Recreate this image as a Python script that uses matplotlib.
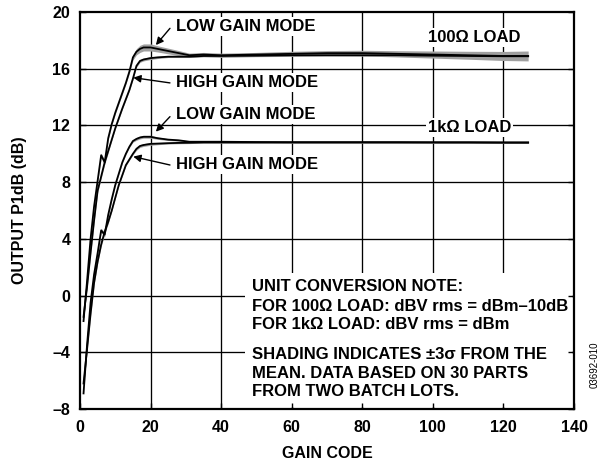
import matplotlib
matplotlib.use("Agg")
import matplotlib.pyplot as plt
from matplotlib.patches import Rectangle

plt.rcParams['font.family'] = ['Liberation Sans', 'DejaVu Sans']
plt.rcParams['font.weight'] = 'bold'

# gain codes where the curves were read
codes = [1, 2, 3, 4, 5, 6, 7, 8, 9, 10, 11, 12, 13, 14, 15, 16, 17, 18, 20, 22,
         25, 28, 31, 35, 40, 50, 60, 70, 80, 90, 100, 110, 120, 127]

# 100 ohm load
lg100 = [-1.8, 1.0, 4.0, 6.3, 8.1, 9.9, 9.4, 11.1, 12.1, 12.9, 13.6, 14.3, 15.0, 15.8,
         16.8, 17.2, 17.4, 17.5, 17.5, 17.4, 17.25, 17.1, 16.95, 17.0, 16.95, 17.0,
         17.05, 17.1, 17.1, 17.05, 17.0, 16.95, 16.9, 16.9]
hg100 = [-1.5, 0.6, 3.0, 5.3, 7.4, 8.4, 9.4, 10.2, 11.0, 11.8, 12.5, 13.2, 13.85, 14.5,
         15.3, 16.2, 16.55, 16.65, 16.75, 16.8, 16.85, 16.85, 16.85, 16.9, 16.9, 16.92,
         16.95, 16.95, 16.95, 16.95, 16.92, 16.9, 16.88, 16.88]
band100 = [0.1, 0.1, 0.1, 0.1, 0.12, 0.15, 0.15, 0.12, 0.1, 0.1, 0.1, 0.1, 0.1, 0.12,
           0.18, 0.22, 0.25, 0.25, 0.25, 0.22, 0.2, 0.18, 0.15, 0.15, 0.15, 0.15,
           0.18, 0.18, 0.2, 0.22, 0.25, 0.28, 0.32, 0.35]

# 1k ohm load
lg1k = [-6.9, -3.5, -0.5, 1.5, 3.0, 4.6, 4.3, 5.7, 6.8, 7.8, 8.6, 9.4, 10.0, 10.5,
        10.9, 11.05, 11.15, 11.2, 11.2, 11.1, 11.0, 10.95, 10.85, 10.85, 10.85, 10.83,
        10.82, 10.82, 10.82, 10.82, 10.81, 10.81, 10.8, 10.8]
hg1k = [-6.2, -3.8, -1.3, 0.9, 2.4, 3.6, 4.5, 5.2, 6.0, 6.9, 7.8, 8.5, 9.2, 9.6,
        10.0, 10.35, 10.55, 10.62, 10.7, 10.72, 10.75, 10.77, 10.78, 10.8, 10.8, 10.8,
        10.8, 10.8, 10.8, 10.8, 10.8, 10.8, 10.79, 10.79]
band1k = [0.1, 0.1, 0.1, 0.1, 0.12, 0.15, 0.15, 0.12, 0.08, 0.06, 0.06, 0.06, 0.06,
          0.06, 0.08, 0.1, 0.1, 0.1, 0.1, 0.08, 0.06, 0.06, 0.06, 0.05, 0.05, 0.05,
          0.05, 0.05, 0.05, 0.05, 0.05, 0.05, 0.05, 0.05]

xticks = [0, 20, 40, 60, 80, 100, 120, 140]
yticks = [-8, -4, 0, 4, 8, 12, 16, 20]

note_lines = ["UNIT CONVERSION NOTE:",
              "FOR 100\u03a9 LOAD: dBV rms = dBm\u201310dB",
              "FOR 1k\u03a9 LOAD: dBV rms = dBm",
              "SHADING INDICATES \u00b13\u03c3 FROM THE",
              "MEAN. DATA BASED ON 30 PARTS",
              "FROM TWO BATCH LOTS."]
note_y = [0.63, -0.78, -2.07, -4.19, -5.48, -6.78]

fig = plt.figure(figsize=(6.05, 4.73), dpi=100)
ax = fig.add_axes([0.1322, 0.1353, 0.8166, 0.8393])
ax.set_xlim(0, 140)
ax.set_ylim(-8, 20)

# grid drawn by hand so the note box can hide it
for xv in xticks[1:-1]:
    ax.axvline(xv, color='black', lw=0.95, zorder=0.8)
for yv in yticks[1:-1]:
    ax.axhline(yv, color='black', lw=0.95, zorder=0.8)

ax.add_patch(Rectangle((46.7, -7.88), 92.8, 9.45, facecolor='white',
                       edgecolor='none', zorder=1))

for ys, bs in [(lg100, band100), (hg100, band1k), (lg1k, band1k), (hg1k, band1k)]:
    lo = [a - b for a, b in zip(ys, bs)]
    hi = [a + b for a, b in zip(ys, bs)]
    ax.fill_between(codes, lo, hi, color='#a0a0a0', lw=0, zorder=2.6)
    ax.plot(codes, ys, color='black', lw=1.3, zorder=3)

ax.set_xticks(xticks)
ax.set_yticks(yticks)
ax.set_xticklabels([str(v) for v in xticks])
ax.set_yticklabels([str(v).replace('-', '\u2013') for v in yticks])
ax.tick_params(direction='in', length=4.5, width=1, labelsize=11.5,
               top=False, right=True)
ax.tick_params(axis='x', pad=8)
ax.tick_params(axis='y', pad=7)
for s in ax.spines.values():
    s.set_linewidth(1.6)

box = dict(facecolor='white', edgecolor='none', pad=1.5)
arrow = dict(arrowstyle='-|>', color='black', lw=1.0, mutation_scale=11,
             shrinkA=0, shrinkB=0)

ax.text(27.2, 18.96, "LOW GAIN MODE", fontsize=12, va='center', bbox=box, zorder=4)
ax.annotate("", xy=(21.5, 17.67), xytext=(25.5, 18.85), arrowprops=arrow, zorder=4)
ax.text(27.2, 15.0, "HIGH GAIN MODE", fontsize=12, va='center', bbox=box, zorder=4)
ax.annotate("", xy=(15.1, 15.37), xytext=(25.5, 15.0), arrowprops=arrow, zorder=4)
ax.text(27.2, 12.8, "LOW GAIN MODE", fontsize=12, va='center', bbox=box, zorder=4)
ax.annotate("", xy=(21.5, 11.56), xytext=(25.5, 12.62), arrowprops=arrow, zorder=4)
ax.text(27.2, 9.21, "HIGH GAIN MODE", fontsize=12, va='center', bbox=box, zorder=4)
ax.annotate("", xy=(15.1, 9.8), xytext=(25.5, 9.21), arrowprops=arrow, zorder=4)

ax.text(98.6, 18.22, "100\u03a9 LOAD", fontsize=12, va='center', bbox=box, zorder=4)
ax.text(98.6, 11.87, "1k\u03a9 LOAD", fontsize=12, va='center', bbox=box, zorder=4)

for line, yv in zip(note_lines, note_y):
    ax.text(48.7, yv, line, fontsize=12, va='center', zorder=4)

fig.text(20 / 605, 1 - 210.5 / 473, "OUTPUT P1dB (dB)", rotation=90,
         ha='center', va='center', fontsize=11.5)
fig.text(327 / 605, 1 - 453 / 473, "GAIN CODE", ha='center', va='center',
         fontsize=11.5)
fig.text(0.983, 0.228, "03692-010", rotation=90, ha='center', va='center',
         fontsize=7, fontweight='normal')

fig.savefig("out.png", dpi=100)
